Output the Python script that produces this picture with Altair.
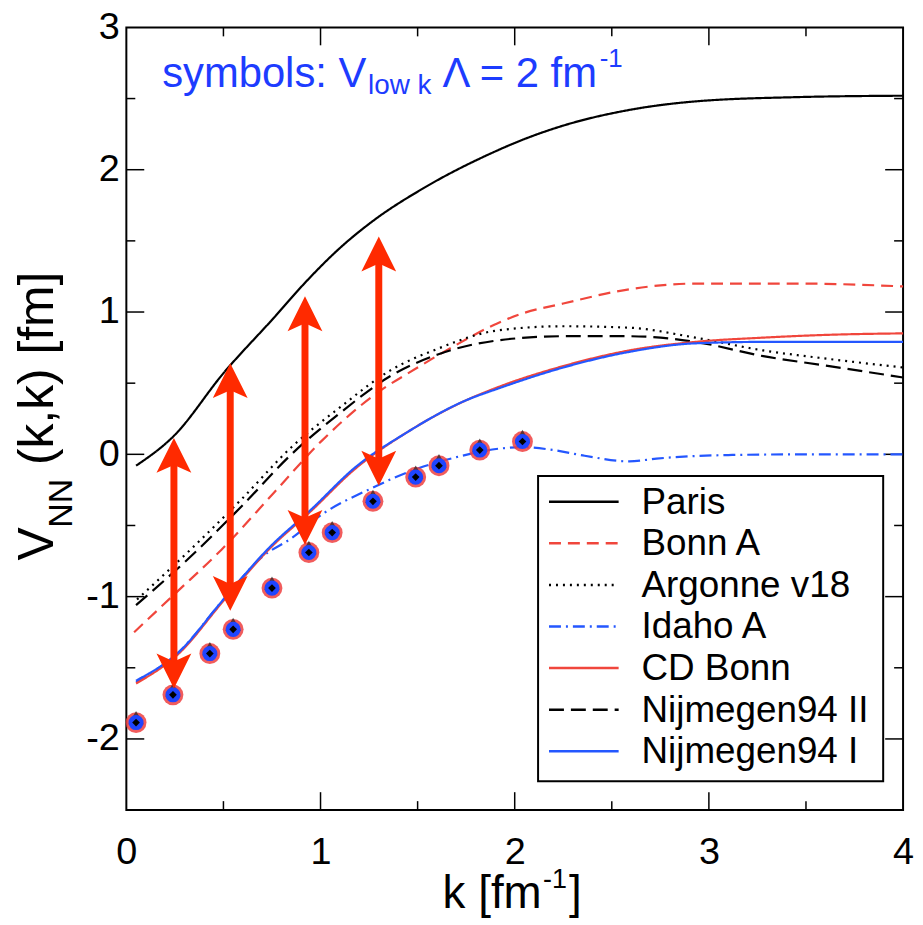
import altair as alt
import pandas as pd

# ---------------- data ----------------
models = ["Paris", "Bonn A", "Argonne v18", "Idaho A", "CD Bonn", "Nijmegen94 II", "Nijmegen94 I"]
colors = ["black", "#f0463c", "black", "#2457ff", "#f0463c", "black", "#2457ff"]
dashes = [[1, 0], [12, 7], [2, 5], [12, 5, 2, 5], [1, 0], [15, 7], [1, 0]]

paris_k = [0.05, 0.245, 0.5, 0.76, 0.93, 1.1, 1.27, 1.53, 1.87, 2.04, 2.25, 2.59, 2.93, 3.45, 4.0]
paris_v = [-0.08, 0.13, 0.57, 0.96, 1.22, 1.45, 1.64, 1.87, 2.11, 2.21, 2.31, 2.42, 2.48, 2.51, 2.52]

bonnA_k = [0.04, 0.25, 0.49, 0.76, 1.01, 1.27, 1.5, 1.7, 1.91, 2.04, 2.25, 2.59, 2.93, 3.45, 4.0]
bonnA_v = [-1.25, -0.98, -0.67, -0.27, 0.10, 0.41, 0.61, 0.77, 0.92, 0.99, 1.06, 1.16, 1.20, 1.20, 1.18]

av18_k = [0.055, 0.33, 0.59, 0.85, 1.10, 1.36, 1.6, 1.91, 2.25, 2.59, 2.93, 3.28, 3.62, 4.0]
av18_v = [-1.02, -0.67, -0.32, 0.05, 0.33, 0.59, 0.74, 0.87, 0.90, 0.89, 0.82, 0.73, 0.67, 0.61]

idaho_k = [0.05, 0.27, 0.50, 0.70, 0.85, 1.01, 1.26, 1.46, 1.70, 1.92, 2.04, 2.2, 2.36, 2.59, 2.73, 3.1, 3.5, 4.0]
idaho_v = [-1.60, -1.39, -1.02, -0.72, -0.59, -0.42, -0.24, -0.12, -0.02, 0.04, 0.05, 0.03, -0.01, -0.05, -0.03, -0.005, 0.0, 0.0]

cdbonn_k = [0.05, 0.27, 0.50, 0.74, 0.95, 1.18, 1.44, 1.75, 1.91, 2.25, 2.59, 2.93, 3.28, 3.62, 4.0]
cdbonn_v = [-1.61, -1.40, -1.03, -0.66, -0.40, -0.10, 0.15, 0.38, 0.47, 0.62, 0.73, 0.79, 0.82, 0.84, 0.85]

nij2_k = [0.05, 0.33, 0.59, 0.85, 1.10, 1.36, 1.6, 1.91, 2.25, 2.59, 2.93, 3.28, 3.62, 4.0]
nij2_v = [-1.06, -0.72, -0.37, 0.0, 0.29, 0.55, 0.70, 0.80, 0.83, 0.83, 0.79, 0.69, 0.62, 0.54]

nij1_k = [0.05, 0.27, 0.50, 0.74, 0.95, 1.18, 1.44, 1.75, 1.91, 2.25, 2.59, 2.93, 3.28, 4.0]
nij1_v = [-1.59, -1.39, -1.02, -0.65, -0.39, -0.09, 0.15, 0.38, 0.46, 0.61, 0.72, 0.78, 0.79, 0.79]

# V_low k symbols
sym_k = [0.05, 0.24, 0.43, 0.55, 0.75, 0.94, 1.06, 1.27, 1.49, 1.61, 1.82, 2.04]
sym_v = [-1.885, -1.69, -1.40, -1.23, -0.94, -0.69, -0.55, -0.33, -0.16, -0.08, 0.03, 0.09]

# red double arrows
arr_k = [0.245, 0.535, 0.92, 1.30]
arr_top = [0.115, 0.64, 1.11, 1.53]
arr_bot = [-1.645, -1.10, -0.635, -0.22]

# axis ticks
x_labels = [0, 1, 2, 3, 4]
y_labels = [-2, -1, 0, 1, 2, 3]
x_major = [1, 2, 3]
x_minor = [0.5, 1.5, 2.5, 3.5]
y_major = [-2, -1, 0, 1, 2]
y_minor = [-1.5, -0.5, 0.5, 1.5, 2.5]

# ---------------- build tables ----------------
series = {
    "Paris": (paris_k, paris_v),
    "Bonn A": (bonnA_k, bonnA_v),
    "Argonne v18": (av18_k, av18_v),
    "Nijmegen94 II": (nij2_k, nij2_v),
    "Idaho A": (idaho_k, idaho_v),
    "CD Bonn": (cdbonn_k, cdbonn_v),
    "Nijmegen94 I": (nij1_k, nij1_v),
}
rows = []
for name, (ks, vs) in series.items():
    for i, (k, v) in enumerate(zip(ks, vs)):
        rows.append({"model": name, "k": k, "V": v, "i": i})
lines_df = pd.DataFrame(rows)
sym_df = pd.DataFrame({"k": sym_k, "V": sym_v})
arr_df = pd.DataFrame({"k": arr_k, "top": arr_top, "bottom": arr_bot})

W, H = 781, 787
FONT = "Liberation Sans"
BLUE_TXT = "#1d3cff"
ARROW = "#ff2a00"

xscale = alt.Scale(domain=[0, 4], nice=False, zero=False)
yscale = alt.Scale(domain=[-2.5, 3], nice=False, zero=False)
xaxis = alt.Axis(values=x_labels, ticks=False, domain=False, grid=False, title=None,
                 labelFontSize=38, labelFont=FONT, labelColor="black", labelPadding=24,
                 labelFlush=False, labelOverlap=False, labelBound=False,
                 labelExpr="replace(datum.label, '\u2212', '-')")
yaxis = alt.Axis(values=y_labels, ticks=False, domain=False, grid=False, title=None,
                 labelFontSize=38, labelFont=FONT, labelColor="black", labelPadding=7,
                 labelFlush=False, labelOverlap=False, labelBound=False,
                 labelExpr="replace(datum.label, '\u2212', '-')")


def X(f="k"):
    return alt.X(f"{f}:Q", scale=xscale, axis=xaxis)


def Y(f="V"):
    return alt.Y(f"{f}:Q", scale=yscale, axis=yaxis)


lines = alt.Chart(lines_df).mark_line(strokeWidth=2.2, interpolate="monotone").encode(
    x=X(), y=Y(), order="i:Q",
    color=alt.Color("model:N", scale=alt.Scale(domain=models, range=colors), legend=None),
    strokeDash=alt.StrokeDash("model:N", scale=alt.Scale(domain=models, range=dashes), legend=None),
    detail="model:N",
)

sym_red = alt.Chart(sym_df).mark_point(shape="circle", filled=True, color="#ee4040", opacity=0.85, size=440).encode(x=X(), y=Y())
sym_tri = alt.Chart(sym_df).mark_point(shape="triangle-up", filled=True, color="#222", size=240, yOffset=-5).encode(x=X(), y=Y())
sym_blue = alt.Chart(sym_df).mark_point(shape="circle", filled=True, color="#1f45ff", opacity=1, size=230).encode(x=X(), y=Y())
sym_dot = alt.Chart(sym_df).mark_point(shape="diamond", filled=True, color="black", opacity=1, size=60).encode(x=X(), y=Y())

shaft = alt.Chart(arr_df).mark_rule(color=ARROW, strokeWidth=7, yOffset=25, y2Offset=-25).encode(
    x=X(), y=Y("top"), y2="bottom:Q")
head_up = alt.Chart(arr_df).mark_point(shape="M0,-1L1,1L0,0.55L-1,1Z", filled=True, color=ARROW,
                                       opacity=1, size=1225, yOffset=17.5).encode(x=X(), y=Y("top"))
head_dn = alt.Chart(arr_df).mark_point(shape="M0,1L1,-1L0,-0.55L-1,-1Z", filled=True, color=ARROW,
                                       opacity=1, size=1225, yOffset=-17.5).encode(x=X(), y=Y("bottom"))

# inward ticks on all four sides
MAJ, MIN = 18, 9
xmaj_df = pd.DataFrame({"t": x_major})
xmin_df = pd.DataFrame({"t": x_minor})
ymaj_df = pd.DataFrame({"t": y_major})
ymin_df = pd.DataFrame({"t": y_minor})
tick_layers = []
for d, L in ((xmaj_df, MAJ), (xmin_df, MIN)):
    tick_layers.append(alt.Chart(d).mark_rule(color="black", strokeWidth=1.5).encode(
        x=X("t"), y=alt.value(H), y2=alt.value(H - L)))
    tick_layers.append(alt.Chart(d).mark_rule(color="black", strokeWidth=1.5).encode(
        x=X("t"), y=alt.value(0), y2=alt.value(L)))
for d, L in ((ymaj_df, MAJ), (ymin_df, MIN)):
    tick_layers.append(alt.Chart(d).mark_rule(color="black", strokeWidth=1.5).encode(
        y=Y("t"), x=alt.value(0), x2=alt.value(L)))
    tick_layers.append(alt.Chart(d).mark_rule(color="black", strokeWidth=1.5).encode(
        y=Y("t"), x=alt.value(W - L), x2=alt.value(W)))


def one():
    return pd.DataFrame({"s": [0]})


def txt(s, x, y, size, color="black", angle=0, baseline="alphabetic"):
    kw = dict(align="left", baseline=baseline, font=FONT, fontSize=size, color=color)
    if angle:
        kw["angle"] = angle
    return alt.Chart(pd.DataFrame({"s": [s]})).mark_text(**kw).encode(
        text="s:N", x=alt.value(x), y=alt.value(y))


texts = [
    # annotation
    txt("symbols: V", 36, 60, 42, BLUE_TXT),
    txt("low k", 243, 67, 28, BLUE_TXT),
    txt("\u039b = 2 fm", 318, 60, 42, BLUE_TXT),
    txt("-1", 476, 40, 26, BLUE_TXT),
    # x title
    txt("k [fm", 318, 885, 46),
    txt("-1", 419, 865, 27),
    txt("]", 445, 885, 46),
    # y title (rotated)
    txt("V", -74, 536, 50, angle=270),
    txt("NN", -55, 503, 34, angle=270),
    txt("(k,k) [fm]", -74, 440, 50, angle=270),
]

# legend box (drawn by hand, entries in the same order as the reference)
LX0, LX1, LY0, LY1 = 414, 761, 451, 758
ROW0, ROWSTEP = 477, 41.8
legend_layers = [
    alt.Chart(one()).mark_rect(fill="white", stroke="black", strokeWidth=2).encode(
        x=alt.value(LX0), x2=alt.value(LX1), y=alt.value(LY0), y2=alt.value(LY1))
]
for j, (name, col, dsh) in enumerate(zip(models, colors, dashes)):
    yy = ROW0 + j * ROWSTEP
    legend_layers.append(
        alt.Chart(one()).mark_rule(color=col, strokeWidth=2.5, strokeDash=dsh).encode(
            x=alt.value(425), x2=alt.value(495), y=alt.value(yy)))
    legend_layers.append(txt(name, 518, yy + 1, 37, baseline="middle"))

chart = alt.layer(
    *tick_layers, lines, sym_red, sym_tri, sym_blue, sym_dot, shaft, head_up, head_dn,
    *legend_layers, *texts
).properties(
    width=W, height=H,
    autosize=alt.AutoSizeParams(type="none"),
    padding={"left": 119, "top": 17, "right": 12, "bottom": 108},
).configure_view(stroke="black", strokeWidth=2)

chart.save("out.html", embed_options={"renderer": "svg", "actions": False})
